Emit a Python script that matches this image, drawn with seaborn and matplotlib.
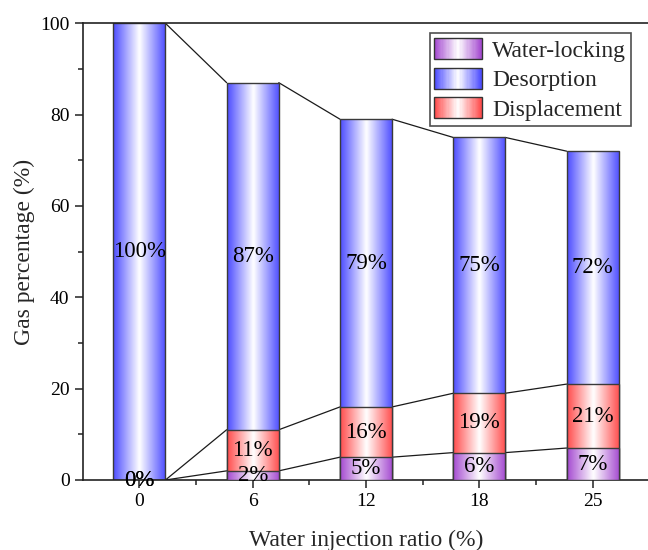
import matplotlib

matplotlib.use("Agg")
import matplotlib.pyplot as plt
import numpy as np
import seaborn as sns
from matplotlib.colors import LinearSegmentedColormap
from matplotlib.legend_handler import HandlerBase
from matplotlib.patches import Rectangle
from matplotlib.ticker import FixedLocator, MultipleLocator

# data
RATIOS = ["0", "6", "12", "18", "25"]
WATER_LOCKING = [0, 2, 5, 6, 7]
DISPLACEMENT = [0, 11, 16, 19, 21]
DESORPTION = [100, 87, 79, 75, 72]

EDGE_COLORS = {
    "Desorption": "#4b4bff",
    "Displacement": "#ff4b4b",
    "Water-locking": "#a449d0",
}


def gradient_cmap(color):
    return LinearSegmentedColormap.from_list(color, [color, "white", color])


class GradientHandle:
    def __init__(self, color):
        self.cmap = gradient_cmap(color)


class GradientHandler(HandlerBase):
    def create_artists(self, legend, orig_handle, xdescent, ydescent,
                       width, height, fontsize, trans):
        n = 40
        artists = []
        for i in range(n):
            r = Rectangle((-xdescent + width * i / n, -ydescent), width / n + 0.3, height,
                          facecolor=orig_handle.cmap((i + 0.5) / n), edgecolor="none",
                          transform=trans)
            artists.append(r)
        artists.append(Rectangle((-xdescent, -ydescent), width, height, facecolor="none",
                                 edgecolor="#333333", linewidth=1.0, transform=trans))
        return artists


sns.set_theme(style="ticks")
plt.rcParams["font.family"] = ["Liberation Serif", "DejaVu Serif"]

fig = plt.figure(figsize=(6.48, 5.5), dpi=100)
ax = fig.add_axes([82.7 / 648, 70 / 550, 566.7 / 648, 456.7 / 550])

series = [
    ("Desorption", DESORPTION, DISPLACEMENT),
    ("Displacement", DISPLACEMENT, WATER_LOCKING),
    ("Water-locking", WATER_LOCKING, [0] * len(RATIOS)),
]
grad = np.linspace(0, 1, 256).reshape(1, -1)

for level, (name, values, lower) in enumerate(series):
    start = len(ax.patches)
    sns.barplot(x=RATIOS, y=values, order=RATIOS, width=0.46, color="white",
                edgecolor="#3a3a3a", linewidth=1.0, ax=ax, zorder=2 + level)
    bars = ax.patches[start:]
    cmap = gradient_cmap(EDGE_COLORS[name])
    for bar in bars:
        bar.set_facecolor("none")
        x0, w, h = bar.get_x(), bar.get_width(), bar.get_height()
        if h > 0:
            im = ax.imshow(grad, extent=[x0, x0 + w, 0, h], aspect="auto", cmap=cmap,
                           interpolation="bicubic", zorder=1.9 + level)
            im.set_clip_path(bar)
    # connector lines from right top corner to next left top corner
    for a, b in zip(bars[:-1], bars[1:]):
        ax.plot([a.get_x() + a.get_width(), b.get_x()], [a.get_height(), b.get_height()],
                color="#1a1a1a", linewidth=0.9, zorder=1)
    for bar, v, lo in zip(bars, values, lower):
        ax.text(bar.get_x() + bar.get_width() / 2, (v + lo) / 2, f"{v}%",
                ha="center", va="center", fontsize=16.5, color="black", zorder=10)

ax.set_xlim(-0.5, 4.5)
ax.set_ylim(0, 100)
ax.yaxis.set_major_locator(MultipleLocator(20))
ax.yaxis.set_minor_locator(MultipleLocator(10))
ax.xaxis.set_minor_locator(FixedLocator([0.5, 1.5, 2.5, 3.5]))
ax.tick_params(which="major", direction="out", length=6, width=1.1, labelsize=14,
               colors="#222222", labelcolor="black")
ax.tick_params(which="minor", direction="out", length=3.5, width=1.1, colors="#222222")
ax.tick_params(axis="x", which="both", bottom=True)
for side in ("left", "bottom", "top"):
    ax.spines[side].set_color("#222222")
    ax.spines[side].set_linewidth(1.2)
ax.spines["right"].set_visible(False)

ax.set_xlabel("Water injection ratio (%)", fontsize=17, labelpad=14)
ax.set_ylabel("Gas percentage (%)", fontsize=17, labelpad=4)

handles = [GradientHandle(EDGE_COLORS[n]) for n in ["Water-locking", "Desorption", "Displacement"]]
leg = ax.legend(handles, ["Water-locking", "Desorption", "Displacement"],
                handler_map={GradientHandle: GradientHandler()},
                loc="upper right", bbox_to_anchor=(0.9675, 0.978), borderaxespad=0,
                fontsize=17, frameon=True, fancybox=False, handlelength=2.0,
                handleheight=1.0, handletextpad=0.45, labelspacing=0.25,
                borderpad=0.2)
leg.get_frame().set_edgecolor("#222222")
leg.get_frame().set_linewidth(1.2)
leg.set_zorder(20)

fig.savefig("out.png", dpi=100)
